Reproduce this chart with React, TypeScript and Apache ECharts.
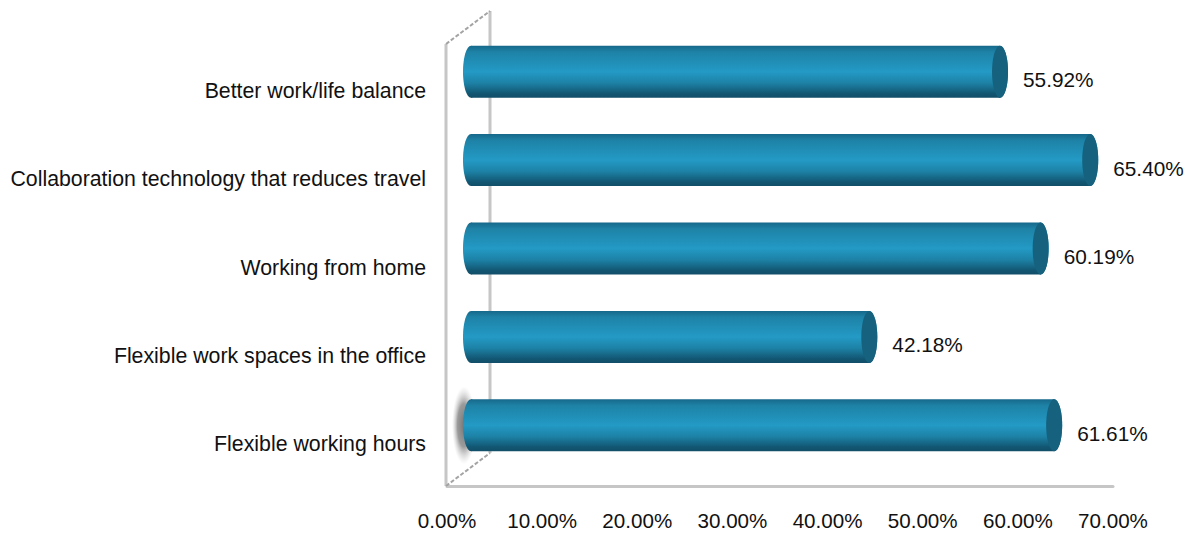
import React, { useEffect, useRef } from "react";
import * as echarts from "echarts";

const categories = [
  "Flexible working hours",
  "Flexible work spaces in the office",
  "Working from home",
  "Collaboration technology that reduces travel",
  "Better work/life balance",
];
const shares = [61.61, 42.18, 60.19, 65.4, 55.92];
const tickValues = [0, 10, 20, 30, 40, 50, 60, 70];

// Depth of the pseudo-3D box: the back wall sits this far from the axes.
const DEPTH_X = 44;
const DEPTH_Y = -33;
const BAR_SHIFT_X = 21;
const BAR_SHIFT_Y = -16.5;
const BAR_HEIGHT = 52;
const CAP_RX = 8;
const FRAME = "#c6c6c6";
const FONT = "Liberation Sans";
const INK = "#111111";

const bodyGradient = new echarts.graphic.LinearGradient(0, 0, 0, 1, [
  { offset: 0, color: "#16688a" },
  { offset: 0.12, color: "#1e82a6" },
  { offset: 0.5, color: "#239ac5" },
  { offset: 0.72, color: "#1d81a5" },
  { offset: 0.92, color: "#125672" },
  { offset: 1, color: "#124e68" },
]);

const haloGradient = new echarts.graphic.RadialGradient(0.5, 0.5, 0.5, [
  { offset: 0, color: "rgba(110,110,110,0.95)" },
  { offset: 0.55, color: "rgba(130,130,130,0.8)" },
  { offset: 1, color: "rgba(200,200,200,0)" },
]);

// The box: front-left wall edge, back wall edge, top and floor diagonals.
const renderFrame = (params: any) => {
  const { x: x0, y: yTop, height } = params.coordSys;
  const yBottom = yTop + height;
  const line = (x1: number, y1: number, x2: number, y2: number, dashed = false) => ({
    type: "line",
    shape: { x1: x1 - 1, y1, x2: x2 - 1, y2 },
    style: {
      stroke: dashed ? "#a4a4a4" : FRAME,
      lineWidth: dashed ? 2 : 3,
      lineDash: dashed ? [4, 2] : undefined,
      fill: "none",
    },
  });
  return {
    type: "group",
    children: [
      line(x0 + DEPTH_X, yTop + DEPTH_Y, x0 + DEPTH_X, yBottom + DEPTH_Y),
      line(x0, yTop, x0, yBottom),
      line(x0, yTop, x0 + DEPTH_X, yTop + DEPTH_Y, true),
      line(x0, yBottom, x0 + DEPTH_X, yBottom + DEPTH_Y, true),
    ],
  };
};

// A horizontal cylinder: gradient body, rounded left end, darker end cap on the right.
const renderCylinder = (_p: any, api: any) => {
  const [xEnd, yMid] = api.coord([api.value(0), api.value(1)]);
  const [xStart] = api.coord([0, api.value(1)]);
  const cy = yMid + BAR_SHIFT_Y;
  const left = xStart + BAR_SHIFT_X + 3;
  const right = xEnd + BAR_SHIFT_X;
  const ry = BAR_HEIGHT / 2;
  const children: any[] = [];
  if (api.value(1) === 0) {
    children.push({
      type: "ellipse",
      shape: { cx: left - 7, cy, rx: 12, ry: ry + 13 },
      style: { fill: haloGradient },
    });
  }
  children.push(
    {
      type: "ellipse",
      shape: { cx: left, cy, rx: CAP_RX, ry },
      style: { fill: bodyGradient },
    },
    {
      type: "ellipse",
      shape: { cx: right, cy, rx: CAP_RX, ry },
      style: { fill: bodyGradient },
    },
    {
      type: "rect",
      shape: { x: left, y: cy - ry, width: right - left, height: BAR_HEIGHT },
      style: { fill: bodyGradient },
    },
    {
      type: "ellipse",
      shape: { cx: right, cy, rx: CAP_RX, ry },
      style: { fill: "#15617e" },
    },
  );
  return { type: "group", children };
};

export default function App() {
  const ref = useRef<HTMLDivElement>(null);
  useEffect(() => {
    const chart = echarts.init(ref.current!, undefined, { renderer: "svg" });
    chart.setOption({
      animation: false,
      backgroundColor: "#ffffff",
      grid: { left: 447, top: 44, width: 666, height: 442, containLabel: false },
      xAxis: {
        type: "value",
        min: 0,
        max: 70,
        interval: 10,
        splitLine: { show: false },
        axisTick: { show: false },
        axisLine: { show: true, onZero: false, lineStyle: { color: FRAME, width: 3 } },
        axisLabel: {
          color: INK,
          fontFamily: FONT,
          fontSize: 20.6,
          margin: 24,
          formatter: (v: number) => `${v.toFixed(2)}%`,
          customValues: tickValues,
        },
      },
      yAxis: {
        type: "category",
        data: categories,
        axisTick: { show: false },
        axisLine: { show: false },
        axisLabel: {
          color: INK,
          fontFamily: FONT,
          fontSize: 21.3,
          margin: 21,
          interval: 0,
          // A short line box hung from the tick sits the text just below the band centre.
          verticalAlign: "top",
          lineHeight: 5,
        },
      },
      series: [
        {
          type: "custom",
          silent: true,
          data: [[0, 0]],
          encode: { x: 0, y: 1 },
          renderItem: renderFrame,
          z: 1,
        },
        {
          type: "custom",
          silent: true,
          data: shares.map((v, i) => [v, i]),
          encode: { x: 0, y: 1 },
          renderItem: renderCylinder,
          z: 2,
        },
        {
          // Value labels, placed by the same scale just past each cylinder's end.
          type: "scatter",
          silent: true,
          symbolSize: 0,
          itemStyle: { opacity: 1 },
          data: shares.map((v, i) => [v, i]),
          z: 3,
          label: {
            show: true,
            position: "right",
            distance: 44,
            offset: [0, -8.5],
            color: INK,
            opacity: 1,
            fontFamily: FONT,
            fontSize: 20.8,
            formatter: (p: any) => `${p.value[0].toFixed(2)}%`,
          },
        },
      ],
    });
    return () => chart.dispose();
  }, []);
  return (
    <div
      ref={ref}
      style={{ position: "absolute", left: 0, top: 0, width: 1196, height: 536 }}
    />
  );
}
